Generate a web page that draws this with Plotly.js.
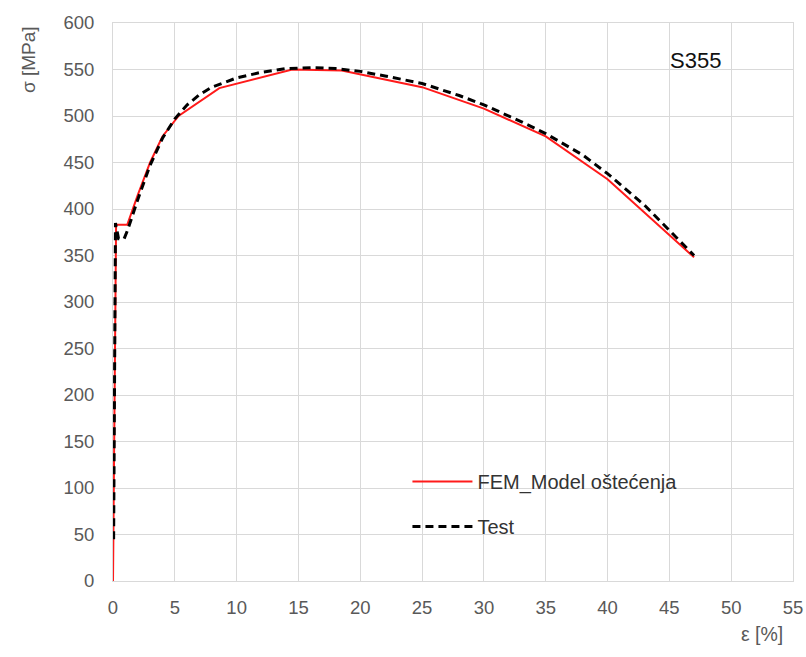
<!DOCTYPE html>
<html>
<head>
<meta charset="utf-8">
<script src="https://cdn.plot.ly/plotly-3.0.1.min.js"></script>
<style>html,body{margin:0;padding:0;background:#fff;}#chart{width:806px;height:657px;}</style>
</head>
<body>
<div id="chart"></div>
<script>
// FEM_Model oštećenja (red)
const femStrain = [0, 0.25, 1.15, 2.0, 3.0, 4.0, 5.3, 8.6, 14.5, 18.5, 25.0, 30.0, 35.0, 40.0, 47.0];
const femStress = [0, 383, 383, 415, 450, 478, 500, 530, 550, 549, 531, 508, 478, 432, 348];

// Test (black dashed)
const testStrain = [0.05, 0.2, 0.45, 0.9, 1.2, 1.5, 2.0, 3.0, 4.0, 5.0, 6.0, 7.0, 8.0, 10.0, 12.0, 14.0, 16.0, 18.0, 20.0, 22.0, 25.0, 28.0, 30.0, 33.0, 35.0, 38.0, 40.0, 43.0, 47.0];
const testStress = [45, 385, 368, 368, 378, 390, 410, 447, 476, 497, 512, 523, 531, 541, 547, 551, 552, 551, 548, 543, 535, 522, 512, 494, 481, 458, 438, 404, 350];

const xTicks = [0, 5, 10, 15, 20, 25, 30, 35, 40, 45, 50, 55];
const yTicks = [0, 50, 100, 150, 200, 250, 300, 350, 400, 450, 500, 550, 600];

const font = 'Liberation Sans, Arial, sans-serif';
const grid = '#d9d9d9';

const traces = [
  {x: femStrain, y: femStress, type: 'scatter', mode: 'lines', name: 'FEM_Model oštećenja',
   legendgroup: 'a', line: {color: '#ff1a1a', width: 2}},
  {x: testStrain, y: testStress, type: 'scatter', mode: 'lines', name: 'Test',
   legendgroup: 'b', line: {color: '#000000', width: 3, dash: '8px,5px'}}
];

const layout = {
  width: 806, height: 657,
  margin: {l: 113, r: 13, t: 23, b: 76},
  paper_bgcolor: '#fff', plot_bgcolor: '#fff',
  font: {family: font, size: 18, color: '#595959'},
  showlegend: true,
  legend: {x: 0.433, y: 0.138, xanchor: 'left', yanchor: 'middle', bgcolor: 'rgba(0,0,0,0)',
           font: {family: font, size: 20, color: '#333'}, itemwidth: 60, tracegroupgap: 16,
           traceorder: 'grouped'},
  xaxis: {range: [0, 55], tickvals: xTicks, ticktext: xTicks.map(String), showgrid: true, gridcolor: grid,
          zeroline: false, showline: true, linecolor: grid, mirror: true, ticks: '', ticklabelstandoff: 10,
          tickfont: {family: font, size: 18.5, color: '#595959'}, fixedrange: true},
  yaxis: {range: [0, 600], tickvals: yTicks, ticktext: yTicks.map(String), showgrid: true, gridcolor: grid,
          zeroline: false, showline: true, linecolor: grid, mirror: true, ticks: '', ticklabelstandoff: 14,
          tickfont: {family: font, size: 18.5, color: '#595959'}, fixedrange: true},
  annotations: [
    {text: 'S355', x: 47.1, y: 560, xref: 'x', yref: 'y', showarrow: false, xanchor: 'center', yanchor: 'middle',
     font: {family: font, size: 22, color: '#111'}},
    {text: 'σ [MPa]', x: 0, y: 0, xref: 'paper', yref: 'paper', showarrow: false, textangle: -90,
     xanchor: 'center', yanchor: 'middle', font: {family: font, size: 19, color: '#595959'}},
    {text: 'ε [%]', x: 0, y: 0, xref: 'paper', yref: 'paper', showarrow: false,
     xanchor: 'center', yanchor: 'middle', font: {family: font, size: 19.5, color: '#595959'}}
  ]
};
// convert pixel positions of axis titles into paper coords
const pw = 806 - 113 - 13, ph = 657 - 23 - 76;
layout.annotations[1].x = (28 - 113) / pw; layout.annotations[1].y = (581 - 60) / ph;
layout.annotations[2].x = (762 - 113) / pw; layout.annotations[2].y = (581 - 634) / ph;

Plotly.newPlot('chart', traces, layout, {displayModeBar: false, staticPlot: true});
</script>
</body>
</html>
